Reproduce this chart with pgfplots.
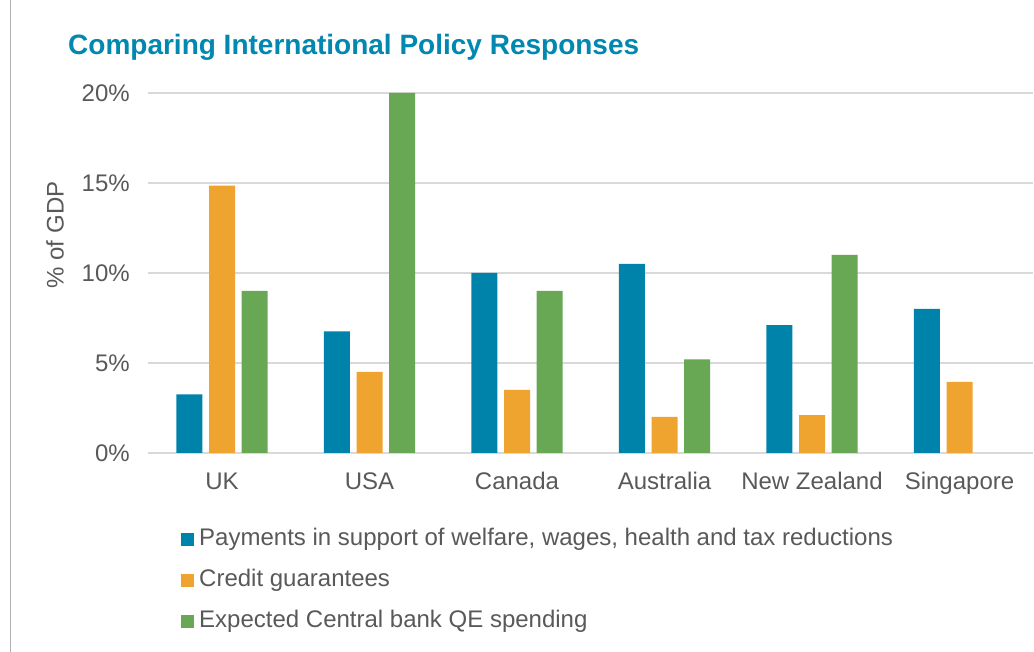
\documentclass[border=0pt]{standalone}
\usepackage{pgfplots}
\pgfplotsset{compat=1.18}
\usepackage{fontspec}
\setmainfont{Liberation Sans}
\definecolor{cblue}{HTML}{0083AB}
\definecolor{corange}{HTML}{F0A430}
\definecolor{cgreen}{HTML}{68A854}
\definecolor{ctext}{HTML}{595959}
\definecolor{ctitle}{HTML}{0088B0}
\definecolor{cgrid}{HTML}{D9D9D9}
\begin{document}
\begin{tikzpicture}[x=1pt,y=1pt]
\useasboundingbox (0,0) rectangle (1034,652);
\fill[white] (0,0) rectangle (1034,652);
\draw[color=black!30, line width=1.2pt] (10.5,0) -- (10.5,652);
\node[anchor=base west, inner sep=0, text=ctitle, font=\fontsize{28}{32}\selectfont\bfseries] at (68,597) {Comparing International Policy Responses};
\node[rotate=90, text=ctext, font=\fontsize{24}{28}\selectfont, inner sep=0] at (55,417) {\% of GDP};
\begin{axis}[
  at={(148.25pt,199pt)}, anchor=south west,
  scale only axis, width=885pt, height=360pt,
  xmin=-0.5, xmax=5.5, ymin=0, ymax=20,
  ybar=6.7pt, bar width=26pt,
  xtick={0,...,5}, xticklabels={UK,USA,Canada,Australia,New Zealand,Singapore},
  ytick={0,5,10,15,20},
  yticklabel={\pgfmathprintnumber[assume math mode=true]{\tick}\%},
  ymajorgrids, grid style={cgrid, line width=1.5pt},
  axis line style={draw=none},
  major tick length=0pt,
  tick label style={text=ctext, font=\fontsize{24}{28}\selectfont},
  xticklabel style={text height=17pt, text depth=5pt, yshift=-16pt},
  yticklabel style={xshift=-15pt},
  legend style={draw=none, fill=none, at={(axis description cs:0.0367,-0.2090)}, anchor=north west,
    inner sep=0pt, row sep=19.2pt, font=\fontsize{24}{28}\selectfont, text=ctext,
    nodes={inner sep=0pt, text height=17pt, text depth=5pt},
    /tikz/every odd column/.style={column sep=5.5pt}},
  legend cell align=left,
  legend image code/.code={\fill[#1] (0pt,-6.4pt) rectangle (12.8pt,6.4pt);},
]
\addplot[fill=cblue, draw=none] coordinates {(0,3.25) (1,6.75) (2,10.0) (3,10.5) (4,7.1) (5,8.0)};
\addplot[fill=corange, draw=none] coordinates {(0,14.85) (1,4.5) (2,3.5) (3,2.0) (4,2.1) (5,3.95)};
\addplot[fill=cgreen, draw=none] coordinates {(0,9.0) (1,20.0) (2,9.0) (3,5.2) (4,11.0)};
\legend{{Payments in support of welfare, wages, health and tax reductions},{Credit guarantees},{Expected Central bank QE spending}}
\end{axis}
\end{tikzpicture}
\end{document}
